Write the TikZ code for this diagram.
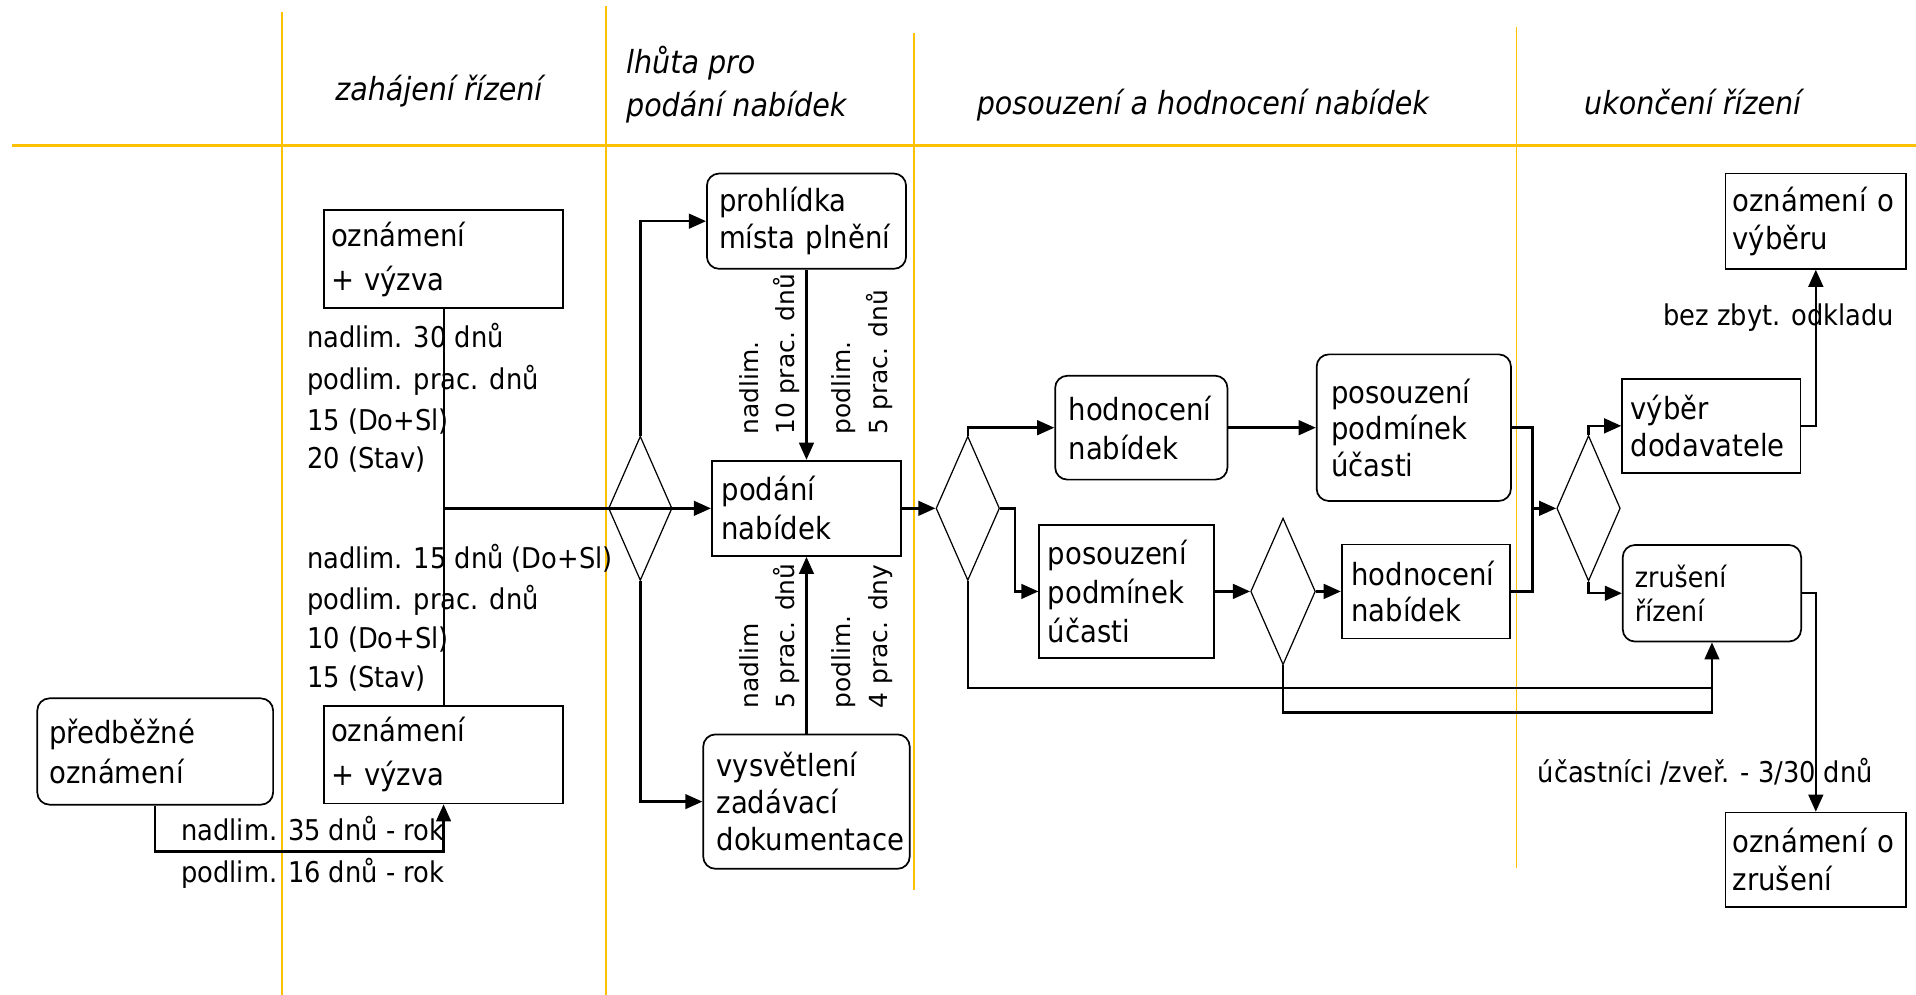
\documentclass[tikz,border=0pt]{standalone}
\usepackage{fontspec}
\setmainfont{DejaVu Sans Condensed}
\newfontfamily\vfont{DejaVu Sans}
\usetikzlibrary{arrows.meta,shapes.geometric}
\definecolor{yl}{RGB}{255,192,0}
\tikzset{
 yline/.style={draw=yl, line width=0.7pt},
 con/.style={line width=1pt},
 arr/.style={con, -{Triangle[length=7pt,width=6pt]}},
 sq/.style={draw, line width=0.7pt, rectangle, inner ysep=0pt, align=left, font=\fontsize{12.5}{15}\selectfont},
 rr/.style={sq, rounded corners=5pt},
 dia/.style={draw, diamond, line width=0.5pt, inner sep=0pt},
 lbl/.style={inner sep=0pt, anchor=base west, font=\fontsize{11.7}{14}\selectfont},
 hdr/.style={inner sep=0pt, anchor=base west, font=\fontsize{13}{16}\selectfont\itshape},
 rot/.style={rotate=90, anchor=south west, inner sep=0pt, align=left, font=\vfont\fontsize{10.2}{15}\selectfont},
}
\begin{document}
\begin{tikzpicture}[x=0.5pt,y=-0.5pt]
\useasboundingbox (0,0) rectangle (1568,814);
% swimlane lines
\draw[yline, line width=0.9pt] (10,119) -- (1568,119);
\draw[yline] (231,10) -- (231,814);
\draw[yline] (496,5) -- (496,814);
\draw[yline] (748,27) -- (748,728);
\draw[yline] (1241,22) -- (1241,710);
% headers
\node[hdr] (h1) at (274,82) {zahájení řízení};
\node[hdr] (h2a) at (512,60.5) {lhůta pro};
\node[hdr] (h2b) at (512,95.5) {podání nabídek};
\node[hdr] (h3) at (799,94) {posouzení a hodnocení nabídek};
\node[hdr] (h4) at (1296,94) {ukončení řízení};
% boxes
\node[sq, minimum width=98pt, minimum height=40pt, text width=92pt, inner xsep=3pt, font=\fontsize{12.5}{18}\selectfont] (ozn1) at (363,212) {oznámení\\+ výzva};
\node[sq, minimum width=98pt, minimum height=40pt, text width=92pt, inner xsep=3pt, font=\fontsize{12.5}{18}\selectfont] (ozn2) at (363,617.5) {oznámení\\+ výzva};
\node[rr, minimum width=96.5pt, minimum height=43.5pt, text width=86.5pt, inner xsep=5pt, font=\fontsize{12.5}{16}\selectfont] (pred) at (127,615) {předběžné\\oznámení};
\node[rr, minimum width=81.5pt, minimum height=39pt, text width=71.5pt, inner xsep=5pt] (proh) at (660,181) {prohlídka\\místa plnění};
\node[sq, minimum width=77.5pt, minimum height=39pt, text width=69.5pt, inner xsep=4pt, font=\fontsize{12.5}{16}\selectfont] (podani) at (660,416) {podání\\nabídek};
\node[rr, minimum width=84.5pt, minimum height=55pt, text width=73.5pt, inner xsep=5.5pt] (vysv) at (660,656) {vysvětlení\\zadávací\\dokumentace};
\node[dia, minimum width=26pt, minimum height=59pt] (d1) at (524,416) {};
\node[dia, minimum width=26pt, minimum height=59pt] (d2) at (792,416) {};
\node[rr, minimum width=70.5pt, minimum height=42.5pt, text width=59.5pt, inner xsep=5.5pt, font=\fontsize{12.5}{16}\selectfont] (hod1) at (934,350) {hodnocení\\nabídek};
\node[rr, minimum width=79.5pt, minimum height=60pt, text width=67.5pt, inner xsep=6pt] (pos1) at (1157,350) {posouzení\\podmínek\\účasti};
\node[sq, minimum width=71.5pt, minimum height=54.5pt, text width=64.5pt, inner xsep=3.5pt, font=\fontsize{12.5}{16}\selectfont] (pos2) at (922,484) {posouzení\\podmínek\\účasti};
\node[dia, minimum width=26.5pt, minimum height=60pt] (d3) at (1050,484) {};
\node[sq, minimum width=69pt, minimum height=38.5pt, text width=61pt, inner xsep=4pt] (hod2) at (1167,484) {hodnocení\\nabídek};
\node[dia, minimum width=26pt, minimum height=59.5pt] (d4) at (1300,416) {};
\node[sq, minimum width=73pt, minimum height=38.5pt, text width=66pt, inner xsep=3.5pt] (vyber) at (1400.5,348.5) {výběr\\dodavatele};
\node[rr, minimum width=73pt, minimum height=39.5pt, text width=63pt, inner xsep=5pt, font=\fontsize{11.5}{14}\selectfont] (zrus) at (1401,485.5) {zrušení\\řízení};
\node[sq, minimum width=74pt, minimum height=39pt, text width=68pt, inner xsep=3pt, font=\fontsize{12.5}{15.5}\selectfont] (oznv) at (1486,181) {oznámení o\\výběru};
\node[sq, minimum width=74pt, minimum height=38.5pt, text width=68pt, inner xsep=3pt, font=\fontsize{12.5}{15.5}\selectfont] (oznz) at (1486,703.5) {oznámení o\\zrušení};
% connectors
\coordinate (j1) at (ozn1.south |- podani.west);
\draw[con, line width=0.8pt] (ozn1.south) -- (ozn2.north);
\draw[arr] (j1) -- (podani.west);
\draw[arr] (d1.north) |- (proh.west);
\draw[arr] (d1.south) |- (vysv.west);
\draw[arr] (proh.south) -- (podani.north);
\draw[arr] (vysv.north) -- (podani.south);
\coordinate (fl) at (127,697);
\draw[arr] (pred.south) |- (fl) -| (ozn2.south);
\draw[arr] (podani.east) -- (d2.west);
\draw[arr] (d2.north) |- (hod1.west);
\draw[arr] (d2.east) -- ++(12,0) |- (pos2.west);
\coordinate (l1) at (1401,563);
\coordinate (l2) at (1401,583);
\draw[arr] (d2.south) |- (l1) -- (zrus.south);
\draw[con] (d3.south) |- (l2) -- (l1);
\draw[arr] (hod1.east) -- (pos1.west);
\draw[arr] (pos2.east) -- (d3.west);
\draw[arr] (d3.east) -- (hod2.west);
\coordinate (m) at (1254,416);
\draw[con] (pos1.east) -| (m);
\draw[con] (hod2.east) -| (m);
\draw[arr] (m) -- (d4.west);
\draw[arr] (d4.north) |- (vyber.west);
\draw[arr] (d4.south) |- (zrus.west);
\draw[arr] (vyber.east) -| (oznv.south);
\draw[arr] (zrus.east) -| (oznz.north);
% labels
\node[lbl] (t1) at (251,284) {nadlim. 30 dnů};
\node[lbl] (t2) at (251,319) {podlim. prac. dnů};
\node[lbl] (t3) at (251,352) {15 (Do+Sl)};
\node[lbl] (t4) at (251,383) {20 (Stav)};
\node[lbl] (t5) at (251,465.5) {nadlim. 15 dnů (Do+Sl)};
\node[lbl] (t6) at (251,499) {podlim. prac. dnů};
\node[lbl] (t7) at (251,531) {10 (Do+Sl)};
\node[lbl] (t8) at (251,563) {15 (Stav)};
\node[lbl] (t9) at (148,687.5) {nadlim. 35 dnů - rok};
\node[lbl] (t10) at (148,722.5) {podlim. 16 dnů - rok};
\node[lbl] (t11) at (1361,266) {bez zbyt. odkladu};
\node[lbl] (t12) at (1258,640) {účastníci /zveř. - 3/30 dnů};
\node[rot] (r1) at (655,356) {nadlim.\\10 prac. dnů};
\node[rot] (r2) at (731,356) {podlim.\\5 prac. dnů};
\node[rot] (r3) at (655,580) {nadlim\\5 prac. dnů};
\node[rot] (r4) at (731,580) {podlim.\\4 prac. dny};
\end{tikzpicture}
\end{document}
